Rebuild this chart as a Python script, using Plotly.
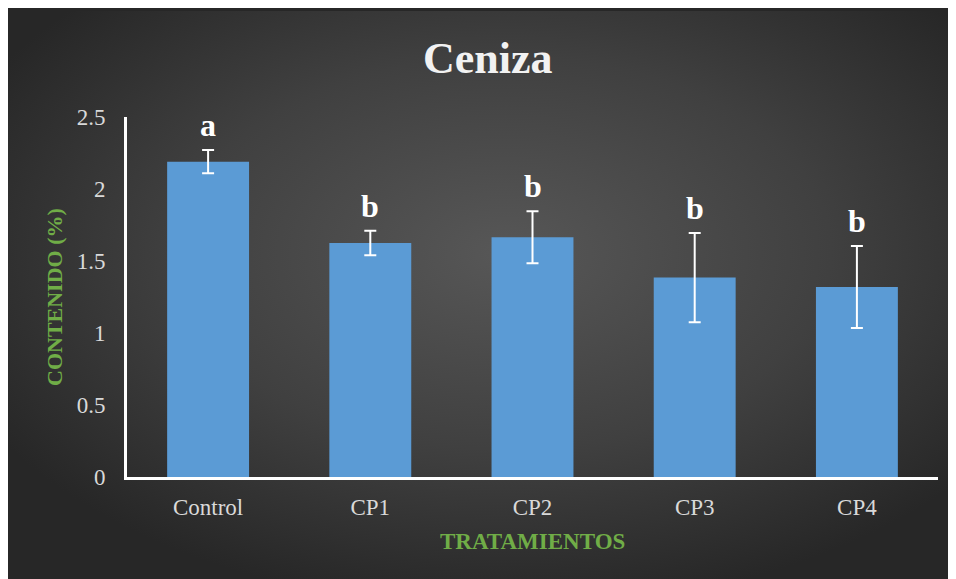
import urllib.parse

import plotly.graph_objects as go

# Ceniza content by treatment (mean +/- error)
treatments = ["Control", "CP1", "CP2", "CP3", "CP4"]
ash_mean = [2.19, 1.625, 1.665, 1.385, 1.32]
ash_error = [0.08, 0.085, 0.18, 0.31, 0.285]
group_letters = ["a", "b", "b", "b", "b"]
y_ticks = [0, 0.5, 1, 1.5, 2, 2.5]
y_tick_text = ["0", "0.5", "1", "1.5", "2", "2.5"]

SERIF = "Liberation Serif, Times New Roman, serif"
GREEN = "#70AD47"
BAR_BLUE = "#5B9BD5"
TICK_GREY = "#D9D9D9"
EDGE_DARK = "#272727"

# dark radial-gradient backdrop, like the Excel chart style
backdrop_svg = (
    "<svg xmlns='http://www.w3.org/2000/svg' width='956' height='576' "
    "viewBox='0 0 956 576' preserveAspectRatio='none'>"
    "<defs><radialGradient id='g' cx='52%' cy='42%' r='62%'>"
    "<stop offset='0' stop-color='#575757'/>"
    "<stop offset='0.55' stop-color='#404040'/>"
    "<stop offset='1' stop-color='" + EDGE_DARK + "'/>"
    "</radialGradient></defs>"
    "<rect width='956' height='576' fill='url(#g)'/></svg>"
)
backdrop_uri = "data:image/svg+xml;charset=utf-8," + urllib.parse.quote(backdrop_svg)

fig = go.Figure()
fig.add_trace(
    go.Bar(
        x=treatments,
        y=ash_mean,
        marker=dict(color=BAR_BLUE, line=dict(width=0)),
        error_y=dict(type="data", array=ash_error, visible=True,
                     color="white", thickness=2, width=6),
        width=0.505,
        showlegend=False,
        hoverinfo="x+y",
    )
)

annotations = [
    dict(text=letter, x=cat, y=m + e, xref="x", yref="y",
         yanchor="bottom", yshift=5, showarrow=False,
         font=dict(family=SERIF, size=32, color="white", weight="bold"))
    for cat, m, e, letter in zip(treatments, ash_mean, ash_error, group_letters)
]
annotations += [
    dict(text="Ceniza", x=0.5, y=1.0, xref="paper", yref="paper",
         xanchor="center", yanchor="middle", xshift=-45, yshift=59, showarrow=False,
         font=dict(family=SERIF, size=44, color="#F2F2F2", weight="bold")),
    dict(text="CONTENIDO (%)", x=0, y=0.5, xref="paper", yref="paper",
         xanchor="center", yanchor="middle", xshift=-73, textangle=-90,
         showarrow=False,
         font=dict(family=SERIF, size=22, color=GREEN, weight="bold")),
    dict(text="TRATAMIENTOS", x=0.5, y=0, xref="paper", yref="paper",
         xanchor="center", yanchor="middle", yshift=-64, showarrow=False,
         font=dict(family=SERIF, size=23, color=GREEN, weight="bold")),
]

fig.update_layout(
    width=956,
    height=579,
    margin=dict(l=119, r=26, t=109, b=110),
    paper_bgcolor=EDGE_DARK,
    plot_bgcolor="rgba(0,0,0,0)",
    images=[dict(source=backdrop_uri, xref="paper", yref="paper",
                 x=-119 / 811, y=466 / 360, sizex=956 / 811, sizey=576 / 360,
                 xanchor="left", yanchor="top", sizing="stretch", layer="below")],
    annotations=annotations,
    xaxis=dict(showline=True, linecolor="white", linewidth=3, showgrid=False,
               ticks="", ticklabelstandoff=7,
               tickfont=dict(family=SERIF, size=23, color=TICK_GREY)),
    yaxis=dict(range=[0, 2.5], tickvals=y_ticks, ticktext=y_tick_text,
               showline=True, linecolor="white", linewidth=3, showgrid=False,
               zeroline=False, ticks="", ticklabelstandoff=14,
               tickfont=dict(family=SERIF, size=23, color=TICK_GREY)),
    bargap=0.495,
)

fig.write_html("out.html")
